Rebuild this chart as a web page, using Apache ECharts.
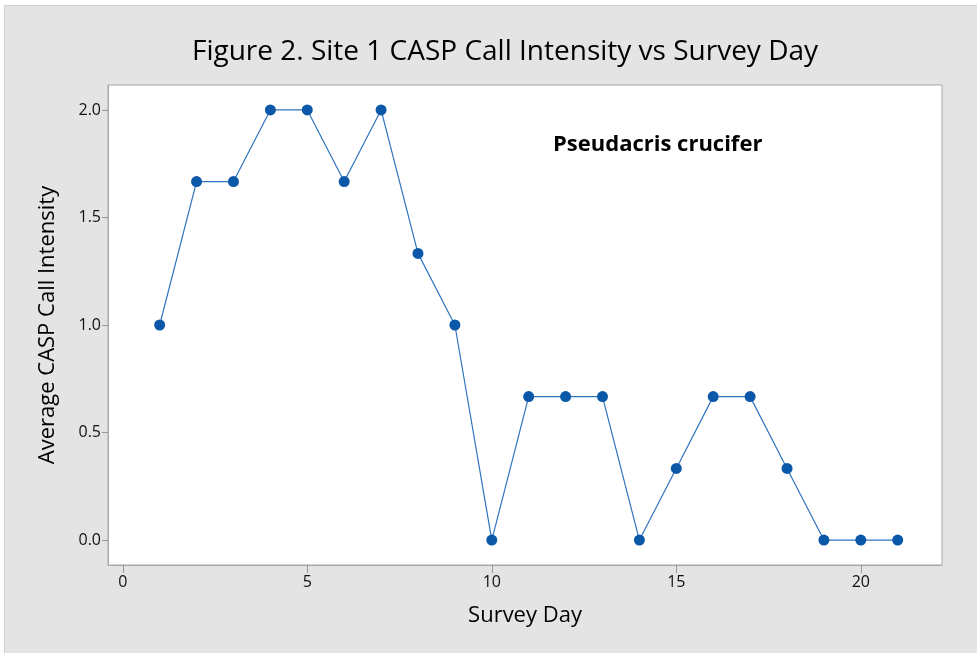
<!DOCTYPE html>
<html>
<head>
<meta charset="utf-8">
<script src="https://cdn.jsdelivr.net/npm/echarts@6/dist/echarts.min.js"></script>
<style>
    html, body {
        margin: 0;
        padding: 0;
        background: #fff;
        width: 977px;
        height: 653px;
        overflow: hidden;
    }
    #chart {
        position: absolute;
        left: 4px;
        top: 5px;
        width: 973px;
        height: 648px;
        border-top: 1px solid #d0d0d0;
        border-left: 1px solid #d0d0d0;
        box-sizing: border-box;
    }
</style>
</head>
<body>
<div id="chart"></div>
<script>
// survey days and average call intensity
const surveyDays = [1, 2, 3, 4, 5, 6, 7, 8, 9, 10, 11, 12, 13, 14, 15, 16, 17, 18, 19, 20, 21];
const intensity = [1.0, 1.667, 1.667, 2.0, 2.0, 1.667, 2.0, 1.333, 1.0, 0.0, 0.667, 0.667, 0.667, 0.0, 0.333, 0.667, 0.667, 0.333, 0.0, 0.0, 0.0];
const xTicks = [0, 5, 10, 15, 20];
const yTicks = [0.0, 0.5, 1.0, 1.5, 2.0];

const font = "'Open Sans', 'Noto Sans', sans-serif";

let chart = echarts.init(document.getElementById("chart"));

let option = {
    backgroundColor: "#e4e4e4",
    animation: false,
    title: {
        text: "Figure 2. Site 1 CASP Call Intensity vs Survey Day",
        left: 495,
        top: 27,
        textAlign: "center",
        textStyle: {
            fontFamily: font,
            fontSize: 28,
            fontWeight: 500,
            color: "#000",
        },
    },
    grid: {
        left: 103,
        top: 79,
        right: 35,
        bottom: 88,
        show: true,
        backgroundColor: "#fff",
        borderColor: "#a8a8a8",
        borderWidth: 1,
    },
    xAxis: {
        type: "value",
        min: -0.4,
        max: 22.2,
        name: "Survey Day",
        nameLocation: "middle",
        nameGap: 40,
        nameTextStyle: {
            fontFamily: font,
            fontSize: 22,
            fontWeight: 500,
            color: "#000",
        },
        axisLine: {
            show: true,
            onZero: false,
            lineStyle: { color: "#a8a8a8" },
        },
        axisTick: {
            show: true,
            customValues: xTicks,
            length: 8,
            lineStyle: { color: "#999" },
        },
        axisLabel: {
            customValues: xTicks,
            fontFamily: font,
            fontSize: 16,
            color: "#111",
            margin: 9,
            formatter: (v) => String(v),
        },
        splitLine: { show: false },
    },
    yAxis: {
        type: "value",
        min: -0.116,
        max: 2.116,
        name: "Average CASP Call Intensity",
        nameLocation: "middle",
        nameGap: 49,
        nameTextStyle: {
            fontFamily: font,
            fontSize: 22,
            fontWeight: 500,
            color: "#000",
        },
        axisLine: {
            show: true,
            onZero: false,
            lineStyle: { color: "#a8a8a8" },
        },
        axisTick: {
            show: true,
            customValues: yTicks,
            length: 6,
            lineStyle: { color: "#999" },
        },
        axisLabel: {
            customValues: yTicks,
            fontFamily: font,
            fontSize: 16,
            color: "#111",
            margin: 7,
            formatter: (v) => v.toFixed(1),
        },
        splitLine: { show: false },
    },
    graphic: [{
        type: "text",
        left: 548,
        top: 128,
        style: {
            text: "Pseudacris crucifer",
            fontFamily: font,
            fontSize: 22,
            fontWeight: "bold",
            fill: "#000",
        },
    }],
    series: [{
        type: "line",
        data: surveyDays.map((d, i) => [d, intensity[i]]),
        symbol: "circle",
        symbolSize: 11,
        itemStyle: {
            color: "#0b57a8",
        },
        lineStyle: {
            width: 1.2,
            color: "#2f74c0",
        },
    }],
};

chart.setOption(option);
</script>
</body>
</html>
